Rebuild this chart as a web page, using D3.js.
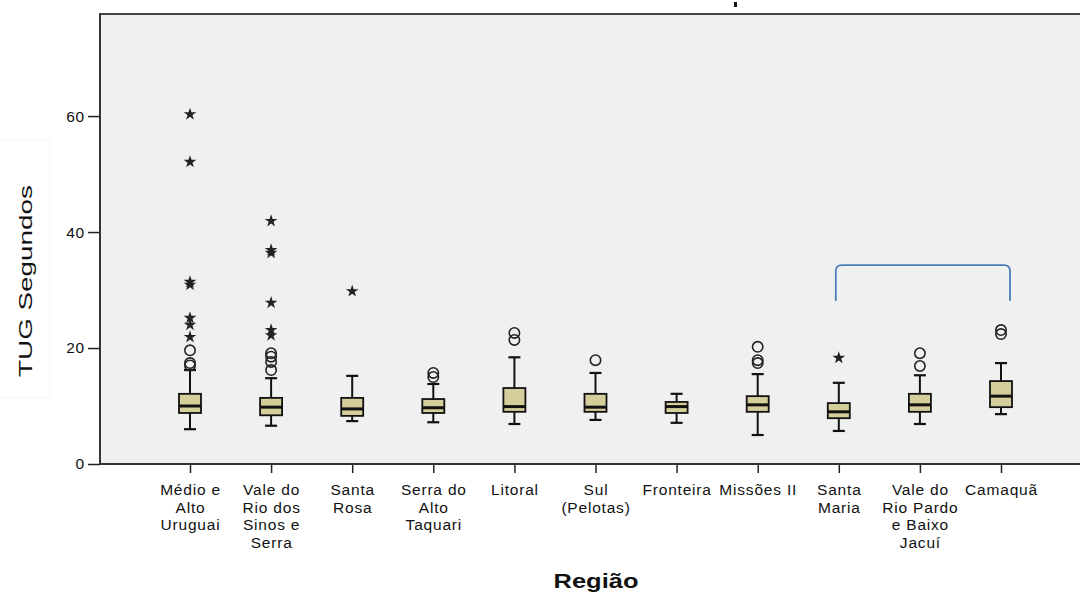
<!DOCTYPE html>
<html>
<head>
<meta charset="utf-8">
<script src="https://cdn.jsdelivr.net/npm/d3@7"></script>
<style>
  body { margin: 0; background: #fff; }
  svg { display: block; font-family: "Liberation Sans", Arial, sans-serif; }
</style>
</head>
<body>
<svg id="chart" width="1080" height="595"></svg>
<script>
// categories (Região)
const regions = [
  "Médio e Alto Uruguai", "Vale do Rio dos Sinos e Serra", "Santa Rosa",
  "Serra do Alto Taquari", "Litoral", "Sul (Pelotas)", "Fronteira",
  "Missões II", "Santa Maria", "Vale do Rio Pardo e Baixo Jacuí", "Camaquã"
];
// tick label lines, as wrapped in the picture
const regionLines = [
  ["Médio e", "Alto", "Uruguai"],
  ["Vale do", "Rio dos", "Sinos e", "Serra"],
  ["Santa", "Rosa"],
  ["Serra do", "Alto", "Taquari"],
  ["Litoral"],
  ["Sul", "(Pelotas)"],
  ["Fronteira"],
  ["Missões II"],
  ["Santa", "Maria"],
  ["Vale do", "Rio Pardo", "e Baixo", "Jacuí"],
  ["Camaquã"]
];
// box stats (seconds)
const whiskerLow  = [6.0, 6.6, 7.4, 7.2, 6.9, 7.6, 7.1, 5.0, 5.7, 6.9, 8.6];
const q1          = [8.8, 8.4, 8.3, 8.8, 9.0, 9.0, 8.8, 9.0, 7.9, 9.0, 9.8];
const median      = [10.0, 9.8, 9.5, 9.7, 9.9, 9.8, 9.9, 10.2, 9.0, 10.2, 11.7];
const q3          = [12.1, 11.4, 11.4, 11.2, 13.1, 12.1, 10.7, 11.7, 10.5, 12.1, 14.3];
const whiskerHigh = [16.2, 14.8, 15.2, 13.8, 18.4, 15.7, 12.1, 15.5, 14.0, 15.3, 17.4];
// outliers (circles) and extremes (stars)
const outliers = [
  [17.0, 17.4, 19.6],
  [16.2, 17.6, 18.5, 19.1],
  [],
  [15.0, 15.7],
  [21.4, 22.6],
  [17.9],
  [],
  [17.4, 17.9, 20.2],
  [],
  [16.9, 19.1],
  [22.4, 23.1]
];
const extremes = [
  [21.9, 24.0, 25.2, 30.9, 31.4, 52.1, 60.3],
  [22.2, 23.1, 27.8, 36.4, 36.9, 41.9],
  [29.8],
  [], [], [], [], [],
  [18.3],
  [], []
];
const yTicks = [0, 20, 40, 60];
// bracket over Santa Maria .. Camaquã
const bracketFrom = "Santa Maria", bracketTo = "Camaquã";
const bracketLow = 28.1, bracketHigh = 34.3;

const svg = d3.select("#chart");

const plot = { left: 100, top: 14, right: 1082, bottom: 464 };

const y = d3.scaleLinear().domain([0, 77.6]).range([plot.bottom, plot.top]);
const x = d3.scalePoint().domain(regions).range([190, 1001]);

// y title box (very faint)
svg.append("rect")
  .attr("x", -1).attr("y", 140).attr("width", 51).attr("height", 258)
  .attr("fill", "#fff").attr("stroke", "#f5f5f5");

// leftover title mark at the top
svg.append("rect")
  .attr("x", 734).attr("y", 2).attr("width", 3).attr("height", 5)
  .attr("fill", "#111");

// plot background
svg.append("rect")
  .attr("x", plot.left).attr("y", plot.top)
  .attr("width", plot.right - plot.left).attr("height", plot.bottom - plot.top)
  .attr("fill", "#f0f0f0")
  .attr("stroke", "#444").attr("stroke-width", 2);

// y axis
const yAxis = svg.append("g")
  .attr("transform", `translate(${plot.left},0)`)
  .call(d3.axisLeft(y).tickValues(yTicks).tickSize(12).tickPadding(3).tickSizeOuter(0));
yAxis.select(".domain").remove();
yAxis.selectAll(".tick line").attr("stroke", "#222").attr("stroke-width", 1.5);
yAxis.selectAll(".tick text")
  .attr("fill", "#111").style("font-size", "15.5px").style("letter-spacing", "0.8px")
  .style("font-family", "'Liberation Sans', Arial, sans-serif");

// x axis
const xAxis = svg.append("g")
  .attr("transform", `translate(0,${plot.bottom})`)
  .call(d3.axisBottom(x).tickSize(9).tickSizeOuter(0).tickFormat(""));
xAxis.select(".domain").remove();
xAxis.selectAll(".tick line").attr("stroke", "#222").attr("stroke-width", 1.5);
xAxis.selectAll(".tick").each(function(d, i) {
  const t = d3.select(this).append("text")
    .attr("fill", "#111")
    .attr("text-anchor", "middle")
    .style("font-size", "15.5px")
    .style("letter-spacing", "0.8px")
    .style("font-family", "'Liberation Sans', Arial, sans-serif");
  regionLines[i].forEach((line, k) => {
    t.append("tspan").attr("x", 0).attr("y", 31 + k * 17.6).text(line);
  });
});

// re-draw left and bottom axis lines on top
svg.append("line")
  .attr("x1", plot.left).attr("x2", plot.left)
  .attr("y1", plot.top).attr("y2", plot.bottom)
  .attr("stroke", "#333").attr("stroke-width", 2);
svg.append("line")
  .attr("x1", plot.left).attr("x2", plot.right)
  .attr("y1", plot.bottom).attr("y2", plot.bottom)
  .attr("stroke", "#333").attr("stroke-width", 2);

// boxes
const boxW = 22, capW = 12;
const boxes = svg.append("g");
regions.forEach((r, i) => {
  const cx = x(r);
  const g = boxes.append("g");
  // whiskers
  g.append("line").attr("x1", cx).attr("x2", cx)
    .attr("y1", y(whiskerLow[i])).attr("y2", y(q1[i]))
    .attr("stroke", "#111").attr("stroke-width", 2);
  g.append("line").attr("x1", cx).attr("x2", cx)
    .attr("y1", y(q3[i])).attr("y2", y(whiskerHigh[i]))
    .attr("stroke", "#111").attr("stroke-width", 2);
  [whiskerLow[i], whiskerHigh[i]].forEach(v => {
    g.append("line").attr("x1", cx - capW / 2).attr("x2", cx + capW / 2)
      .attr("y1", y(v)).attr("y2", y(v))
      .attr("stroke", "#111").attr("stroke-width", 2.2);
  });
  // box
  g.append("rect")
    .attr("x", cx - boxW / 2).attr("y", y(q3[i]))
    .attr("width", boxW).attr("height", y(q1[i]) - y(q3[i]))
    .attr("fill", "#d4cf9a").attr("stroke", "#111").attr("stroke-width", 1.8);
  g.append("line")
    .attr("x1", cx - boxW / 2).attr("x2", cx + boxW / 2)
    .attr("y1", y(median[i])).attr("y2", y(median[i]))
    .attr("stroke", "#111").attr("stroke-width", 3);
  // outliers
  outliers[i].forEach(v => {
    g.append("circle").attr("cx", cx).attr("cy", y(v)).attr("r", 5.2)
      .attr("fill", "none").attr("stroke", "#222").attr("stroke-width", 1.6);
  });
  // extremes
  extremes[i].forEach(v => {
    g.append("path")
      .attr("transform", `translate(${cx},${y(v)})`)
      .attr("d", d3.symbol(d3.symbolStar, 50)())
      .attr("fill", "#222");
  });
});

// blue bracket
const bx0 = x(bracketFrom) - 3, bx1 = x(bracketTo) + 9;
const by0 = y(bracketLow), by1 = y(bracketHigh);
svg.append("path")
  .attr("d", `M${bx0},${by0} L${bx0},${by1 + 6} Q${bx0},${by1} ${bx0 + 6},${by1} L${bx1 - 6},${by1} Q${bx1},${by1} ${bx1},${by1 + 6} L${bx1},${by0}`)
  .attr("fill", "none").attr("stroke", "#4a7ebb").attr("stroke-width", 1.8);

// axis titles
svg.append("text")
  .attr("transform", `translate(32,281) rotate(-90)`)
  .attr("text-anchor", "middle")
  .attr("textLength", 192).attr("lengthAdjust", "spacingAndGlyphs")
  .style("font-size", "19px").attr("fill", "#111")
  .text("TUG Segundos");

svg.append("text")
  .attr("x", 596).attr("y", 588)
  .attr("text-anchor", "middle")
  .attr("textLength", 85).attr("lengthAdjust", "spacingAndGlyphs")
  .style("font-size", "20px").style("font-weight", "bold").attr("fill", "#111")
  .text("Região");
</script>
</body>
</html>
